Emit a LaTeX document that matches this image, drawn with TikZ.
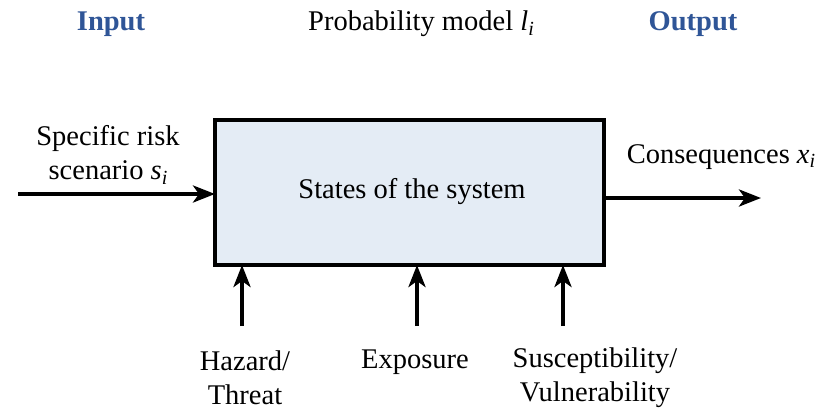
\documentclass[tikz,border=0pt]{standalone}
\usepackage{fontspec}
\setmainfont{Liberation Serif}
\usetikzlibrary{arrows.meta}
\definecolor{hdrblue}{HTML}{2F5597}
\definecolor{boxfill}{HTML}{E4ECF5}
\newcommand{\mv}[2]{\textit{#1}\raisebox{-0.35ex}{\fontsize{20}{20}\selectfont\textit{#2}}}
\begin{document}
\begin{tikzpicture}[x=1pt,y=-1pt,
  every node/.style={font=\fontsize{28.5}{34}\selectfont, inner sep=0pt, align=center},
  hdr/.style={font=\fontsize{28.5}{34}\selectfont\bfseries, text=hdrblue},
  sysbox/.style={draw=black, line width=4pt, fill=boxfill},
  flow/.style={line width=4pt, -{Stealth[length=22pt,width=17pt,inset=6pt]}}]
\useasboundingbox (0,0) rectangle (819,410);
\node[hdr] (in) at (111,24) {Input};
\node (pm) at (421,24) {Probability model \mv{l}{i}};
\node[hdr] (out) at (693,24) {Output};
\draw[sysbox] (215,120) rectangle (604,265);
\node (sys) at (412,192) {States of the system};
\coordinate (L) at (18,194);
\coordinate (Lb) at (215,194);
\coordinate (R) at (604,198);
\coordinate (Rb) at (761,198);
\draw[flow] (L) -- (Lb);
\draw[flow] (R) -- (Rb);
\node (sr) at (108,155) {Specific risk\\scenario \mv{s}{i}};
\node (cq) at (721,157) {Consequences \mv{x}{i}};
\coordinate (h0) at (242,326); \coordinate (h1) at (242,265);
\coordinate (e0) at (417,326); \coordinate (e1) at (417,265);
\coordinate (v0) at (563,326); \coordinate (v1) at (563,265);
\draw[flow] (h0) -- (h1);
\draw[flow] (e0) -- (e1);
\draw[flow] (v0) -- (v1);
\node (hz) at (245,378) {Hazard/\\Threat};
\node (ex) at (415,362) {Exposure};
\node (vu) at (595,378) {Susceptibility/\\Vulnerability};
\end{tikzpicture}
\end{document}
